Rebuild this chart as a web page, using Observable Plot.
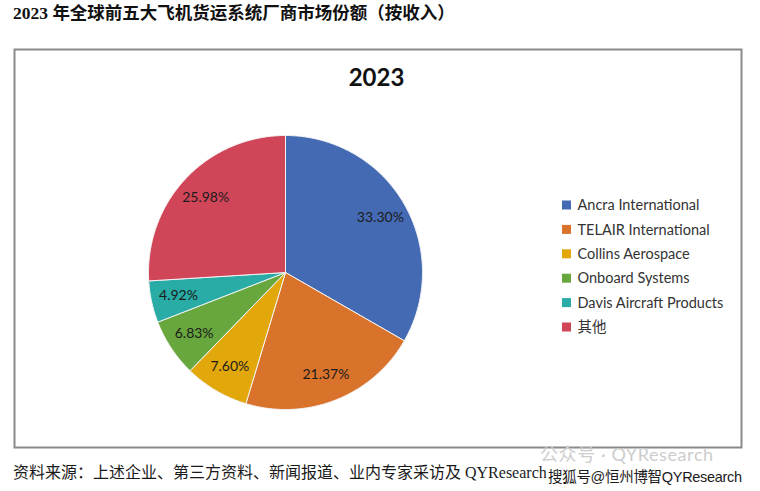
<!DOCTYPE html>
<html>
<head>
<meta charset="utf-8">
<script src="https://cdn.jsdelivr.net/npm/d3@7"></script>
<script src="https://cdn.jsdelivr.net/npm/@observablehq/plot@0.6"></script>
<style>
  html, body { margin: 0; padding: 0; background: #fff; }
  body { width: 760px; height: 491px; position: relative; overflow: hidden; }
  #title { position: absolute; left: 13px; top: 2px; font-family: "Liberation Serif", "Noto Sans CJK SC", serif; font-weight: 700; font-size: 17.5px; line-height: 22px; color: #111; white-space: nowrap; }
  #chart { position: absolute; left: 0; top: 30px; }
  #wm { position: absolute; left: 540px; top: 446px; font-family: "Lato", "Noto Sans CJK SC", sans-serif; font-size: 18px; line-height: 16px; color: #cdcdcd; white-space: nowrap; letter-spacing: 0.6px; }
  #caption { position: absolute; left: 13px; top: 463px; font-family: "Liberation Serif", "Noto Sans CJK SC", serif; font-size: 16px; line-height: 20px; color: #1a1a1a; white-space: nowrap; }
  #sohu { position: absolute; left: 548px; top: 469px; font-family: "Liberation Sans", "Noto Sans CJK SC", sans-serif; font-size: 14.5px; line-height: 16px; color: #1a1a1a; white-space: nowrap; letter-spacing: -0.3px; }
</style>
</head>
<body>
<div id="title"></div>
<div id="chart"></div>
<div id="wm"></div>
<div id="caption"></div>
<div id="sohu"></div>
<script>
// ---- data ----
const titleText = "2023 年全球前五大飞机货运系统厂商市场份额（按收入）";
const chartTitle = "2023";
const companies = ["Ancra International", "TELAIR International", "Collins Aerospace", "Onboard Systems", "Davis Aircraft Products", "其他"];
const shares = [33.30, 21.37, 7.60, 6.83, 4.92, 25.98];
const sliceColors = ["#446AB4", "#D9732B", "#E2A70A", "#68A63E", "#28ACA5", "#D14558"];
const captionText = "资料来源：上述企业、第三方资料、新闻报道、业内专家采访及 QYResearch";
const watermarkText = "公众号 · QYResearch";
const sohuText = "搜狐号@恒州博智QYResearch";

document.getElementById("title").textContent = titleText;
document.getElementById("caption").textContent = captionText;
document.getElementById("wm").textContent = watermarkText;
document.getElementById("sohu").textContent = sohuText;

// ---- layout ----
const W = 760, H = 425;
const cx = 285, cy = 242, R = 137, labelR = 0.8 * R;
const legX = 562, legY0 = 175, legStep = 24.4, sw = 9;

const rows = companies.map((name, i) => ({name, share: shares[i], i}));
const arcs = d3.pie().sort(null).value(d => d.share)(rows);

// slice outlines as closed polygons
const slicePts = [];
for (const a of arcs) {
  slicePts.push({name: a.data.name, x: cx, y: cy});
  const n = Math.max(2, Math.ceil((a.endAngle - a.startAngle) / 0.01));
  for (let k = 0; k <= n; k++) {
    const t = a.startAngle + (a.endAngle - a.startAngle) * k / n;
    slicePts.push({name: a.data.name, x: cx + R * Math.sin(t), y: cy - R * Math.cos(t)});
  }
  slicePts.push({name: a.data.name, x: cx, y: cy});
}

const labels = arcs.map(a => {
  const m = (a.startAngle + a.endAngle) / 2;
  return {x: cx + labelR * Math.sin(m), y: cy - labelR * Math.cos(m), text: a.data.share.toFixed(2) + "%"};
});

const legend = rows.map(r => ({name: r.name, yc: legY0 + r.i * legStep}));

const color = {domain: companies, range: sliceColors};

const plot = Plot.plot({
  width: W,
  height: H,
  margin: 0,
  x: {domain: [0, W], range: [0, W], axis: null},
  y: {domain: [0, H], range: [0, H], axis: null},
  color,
  style: {background: "transparent"},
  marks: [
    Plot.frame({stroke: "#8a8a8a", strokeWidth: 2, insetLeft: 14, insetTop: 19, insetRight: 19, insetBottom: 8}),
    Plot.line(slicePts, {x: "x", y: "y", z: "name", fill: "name", stroke: "#f4f4f4", strokeWidth: 1, curve: "linear"}),
    Plot.text(labels, {x: "x", y: "y", text: "text", fill: "#1b1b1b", fontSize: 14, fontFamily: "Lato, sans-serif"}),
    Plot.text([chartTitle], {x: () => 376, y: () => 48, text: d => d, fontSize: 24, fontWeight: 700, fill: "#111", fontFamily: "Lato, sans-serif"}),
    Plot.rect(legend, {x1: () => legX, x2: () => legX + sw, y1: d => d.yc - sw / 2, y2: d => d.yc + sw / 2, fill: "name"}),
    Plot.text(legend, {x: () => legX + 15, y: "yc", text: "name", textAnchor: "start", fill: "#333", fontSize: 14.5, fontFamily: "Lato, 'Noto Sans CJK SC', sans-serif"})
  ]
});
document.getElementById("chart").appendChild(plot);
</script>
</body>
</html>
